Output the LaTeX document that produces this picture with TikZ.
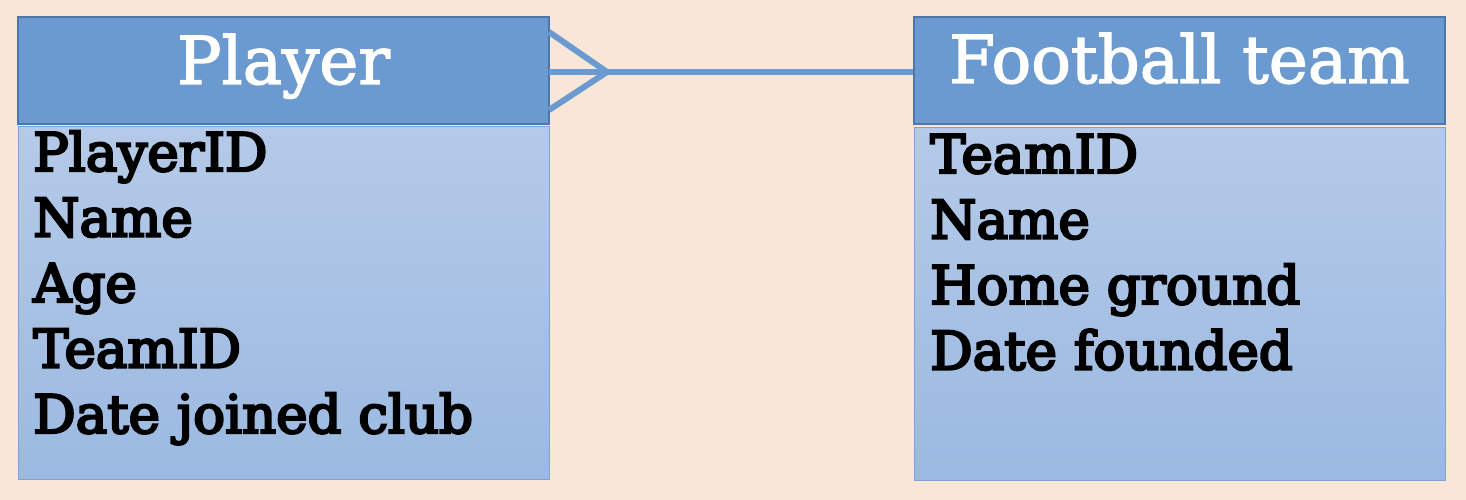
\documentclass[tikz,border=0pt]{standalone}
\usepackage{fontspec}
\setmainfont{DejaVu Serif}
\newfontfamily\fieldfont{DejaVu Serif}[FakeBold=4.5]
\newfontfamily\titlefont{DejaVu Serif}[FakeBold=2]
\usetikzlibrary{positioning}

\definecolor{bgpeach}{HTML}{F8E6D8}
\definecolor{headblue}{HTML}{6A9ACF}
\definecolor{headline}{HTML}{4E76A6}
\definecolor{bodytop}{HTML}{B5CAE8}
\definecolor{bodybot}{HTML}{9BB9E1}
\definecolor{bodyline}{HTML}{7EA2D6}

\tikzset{
  headbox/.style={draw=headline, line width=1.5pt, fill=headblue,
    minimum width=531pt, minimum height=107pt, inner sep=0pt},
  bodybox/.style={draw=bodyline, line width=1pt, top color=bodytop, bottom color=bodybot,
    minimum width=531pt, minimum height=353pt, inner sep=0pt},
  headtext/.style={anchor=base, inner sep=0pt, text=white, font=\titlefont\fontsize{66}{79}\selectfont},
  fieldtext/.style={anchor=base west, inner sep=0pt, text=black, font=\fieldfont\fontsize{53}{64}\selectfont},
  relline/.style={draw=headblue, line width=6pt}
}

\begin{document}
\begin{tikzpicture}[x=1pt, y=-1pt, line join=miter]

  %% ════ 底色 ════
  \fill[bgpeach] (0,0) rectangle (1466,500);

  %% ════ 表框 ════
  \node[headbox] (player) at (283.5,70.5) {};
  \node[bodybox, below=1pt of player] (playerbody) {};
  \node[headbox] (team) at (1179.5,70.5) {};
  \node[bodybox, below=2pt of team] (teambody) {};

  %% ════ 表头文字 ════
  \node[headtext] (playertitle) at (283.5,84) {Player};
  \node[headtext] (teamtitle) at (1179.5,83) {Football team};

  %% ════ 字段 ════
  \foreach \fld [count=\i from 0] in {PlayerID, Name, Age, TeamID, Date joined club}
    \node[fieldtext] (pfield\i) at (33,{171+65.5*\i}) {\fld};
  \foreach \fld [count=\i from 0] in {TeamID, Name, Home ground, Date founded}
    \node[fieldtext] (tfield\i) at (930,{173+65.5*\i}) {\fld};

  %% ════ 关系线（多端鸦爪）════
  \coordinate (cfup) at (549,32);
  \coordinate (cfdown) at (549,110);
  \coordinate (cfroot) at (549,72);
  \coordinate (cftip) at (607,72);
  \draw[relline] (cfup) -- (cftip) -- (cfdown);
  \draw[relline] (cfroot) -- (team.west |- cfroot);

  \pgfresetboundingbox
  \path[use as bounding box] (0,0) rectangle (1466,500);
\end{tikzpicture}
\end{document}
